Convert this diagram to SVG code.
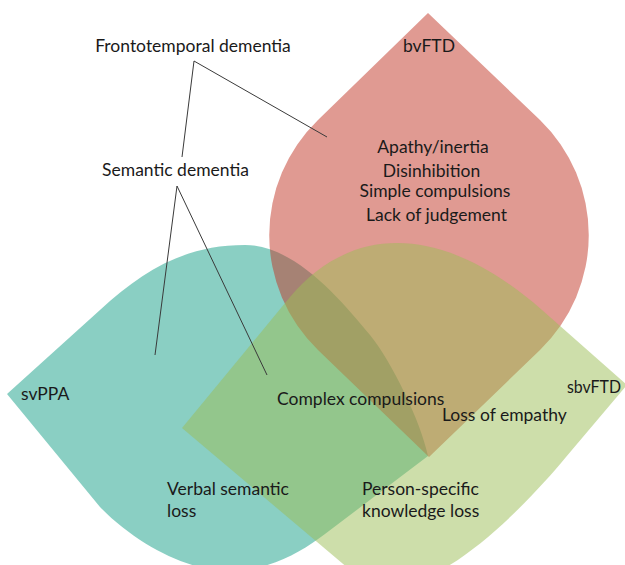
<svg xmlns="http://www.w3.org/2000/svg" width="625" height="565" viewBox="0 0 625 565">
<style>
.set{fill-opacity:0.5;stroke:none}
.teal{fill:#159F87}
.red{fill:#C13525}
.green{fill:#9BBD55}
text{font-family:Lato,"Liberation Sans",sans-serif;font-size:17.5px;fill:#1a1a1a}
.c{text-anchor:middle}
.e{text-anchor:end}
#connectors line{stroke:#3a3a3a;stroke-width:1;fill:none}
</style>
<rect width="625" height="565" fill="#ffffff"/>
<g id="svPPA">
<path class="set teal" d="M7,394 L100,310 C144,270 185,245 245,245 C295,245 341,300 370,335 C392,362 421,422 428,456 L325,534 C300,553 268,571 228,571 C190,571 138,546 100,507 Z"/>
</g>
<g id="bvFTD">
<path class="set red" d="M428,13 L540,120 A160,160 0 0 1 540,350 L429,457 L318,350 A160,160 0 0 1 318,120 Z"/>
</g>
<g id="sbvFTD">
<path class="set green" d="M182,428 L290,297 C348,228 437,218 542,310 L627,385 L566,457 C518,515 412,623 355,574 Z"/>
</g>
<g id="connectors">
<line x1="194" y1="61" x2="327" y2="137"/>
<line x1="194" y1="61" x2="182" y2="157"/>
<line x1="177" y1="186" x2="155" y2="355"/>
<line x1="177" y1="186" x2="267" y2="375"/>
</g>
<g id="label-ftd"><text class="c" x="193" y="52">Frontotemporal dementia</text></g>
<g id="label-sd"><text class="c" x="175.5" y="176">Semantic dementia</text></g>
<g id="label-bvFTD">
<text class="c" x="429" y="52">bvFTD</text>
<text class="c" x="433" y="153">Apathy/inertia</text>
<text class="c" x="431.5" y="177">Disinhibition</text>
<text class="c" x="435" y="197">Simple compulsions</text>
<text class="c" x="436.5" y="221">Lack of judgement</text>
</g>
<g id="label-svPPA">
<text x="21" y="400">svPPA</text>
<text x="167" y="495">Verbal semantic</text>
<text x="167" y="517">loss</text>
</g>
<g id="label-sbvFTD">
<text class="e" x="621" y="393" textLength="54" lengthAdjust="spacingAndGlyphs">sbvFTD</text>
<text x="362" y="495">Person-specific</text>
<text x="362" y="517">knowledge loss</text>
</g>
<g id="label-overlaps">
<text x="277" y="405">Complex compulsions</text>
<text x="442" y="421">Loss of empathy</text>
</g>
</svg>
